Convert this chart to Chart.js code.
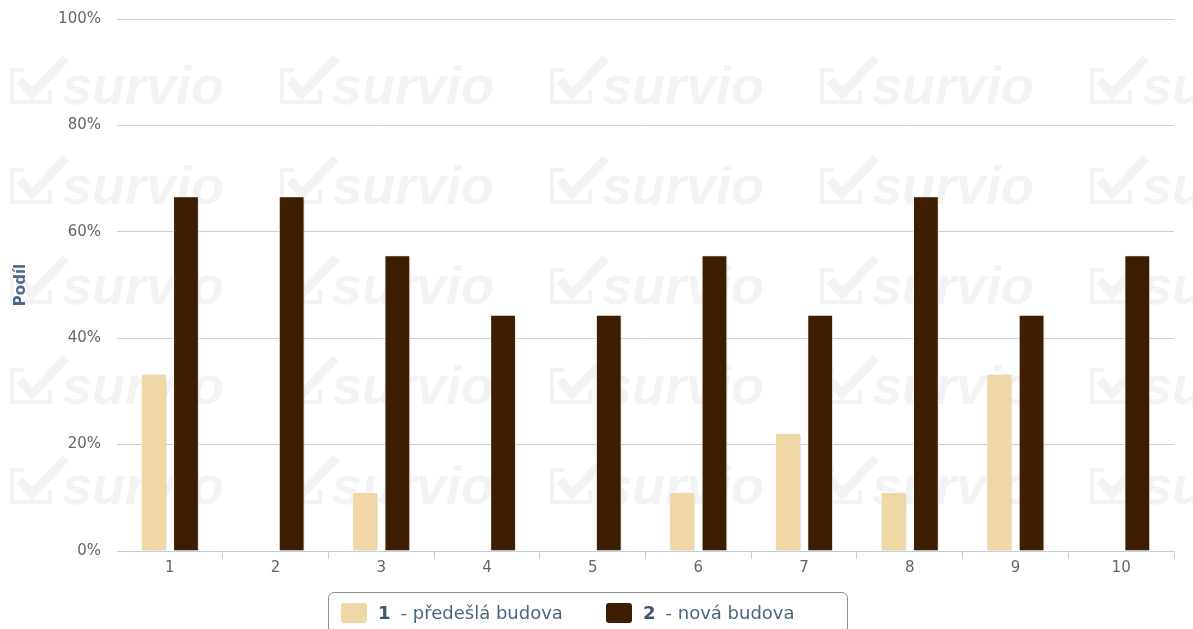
<html>
    <head>
        <script src="https://cdn.jsdelivr.net/npm/chart.js@4.4.0/dist/chart.umd.min.js"></script>
        <style>
            body {
                margin: 0px;
                background: #fff;
                font-family: 'DejaVu Sans', sans-serif;
            }

            #wrap {
                position: relative;
                width: 1193px;
                height: 629px;
                overflow: hidden;
            }

            #legend {
                position: absolute;
                left: 328px;
                top: 592px;
                width: 518px;
                height: 60px;
                border: 1px solid #909090;
                border-radius: 6px;
                font-size: 18px;
                color: #4d6580;
            }

            .item {
                position: absolute;
                top: 9px;
                display: flex;
                align-items: center;
                white-space: nowrap;
            }

            .swatch {
                width: 26px;
                height: 20px;
                border-radius: 3px;
                margin-right: 11px;
            }

            .num {
                font-weight: bold;
                color: #3e576f;
                margin-right: 10px;
            }
        </style>
    </head>

    <body>
        <div id="wrap">
            <canvas id="chart" width="1193" height="629"></canvas>
            <div id="legend"></div>
        </div>
        <script>
            const categories = ['1', '2', '3', '4', '5', '6', '7', '8', '9', '10']
            const seriesNames = ['předešlá budova', 'nová budova']
            const seriesPrev = [33.3, 0, 11.1, 0, 0, 11.1, 22.2, 11.1, 33.3, 0]
            const seriesNew = [66.7, 66.7, 55.6, 44.4, 44.4, 55.6, 44.4, 66.7, 44.4, 55.6]
            const colors = ['#f0d7a6', '#3d1e00']

            // survio watermark behind the plot
            const watermark = {
                id: 'watermark',
                beforeDraw(chart) {
                    const ctx = chart.ctx
                    ctx.save()
                    ctx.fillStyle = '#f3f3f3'
                    ctx.strokeStyle = '#f3f3f3'
                    ctx.font = 'italic bold 54px "Liberation Sans", Arial, sans-serif'
                    ctx.textBaseline = 'alphabetic'
                    for (let row = 0; row < 5; row += 1) {
                        for (let col = 0; col < 5; col += 1) {
                            const x = 10 + col * 270
                            const y = 104 + row * 100
                            // check box
                            ctx.lineWidth = 4
                            ctx.beginPath()
                            ctx.moveTo(x + 14, y - 34)
                            ctx.lineTo(x + 2, y - 34)
                            ctx.lineTo(x + 2, y - 2)
                            ctx.lineTo(x + 40, y - 2)
                            ctx.lineTo(x + 40, y - 14)
                            ctx.stroke()
                            // check mark
                            ctx.lineWidth = 9
                            ctx.beginPath()
                            ctx.moveTo(x + 10, y - 24)
                            ctx.lineTo(x + 22, y - 10)
                            ctx.lineTo(x + 56, y - 46)
                            ctx.stroke()
                            ctx.fillText('survio', x + 52, y)
                        }
                    }
                    ctx.restore()
                },
            }

            const barShadow = {
                id: 'barShadow',
                beforeDatasetsDraw(chart) {
                    const ctx = chart.ctx
                    ctx.save()
                    ctx.shadowColor = 'rgba(0, 0, 0, 0.18)'
                    ctx.shadowBlur = 3
                    ctx.shadowOffsetX = 1
                    ctx.shadowOffsetY = 1
                },
                afterDatasetsDraw(chart) {
                    chart.ctx.restore()
                },
            }

            const ctx = document.getElementById('chart')
            const chart = new Chart(ctx, {
                type: 'bar',
                data: {
                    labels: categories,
                    datasets: [seriesPrev, seriesNew].map((data, i) => ({
                        label: seriesNames[i],
                        data: data,
                        backgroundColor: colors[i],
                        borderColor: '#ffffff',
                        borderWidth: 1,
                        categoryPercentage: 0.61,
                        barPercentage: 0.8,
                    })),
                },
                options: {
                    responsive: false,
                    animation: false,
                    layout: {
                        padding: { top: 19, right: 19, left: 0, bottom: 0 },
                    },
                    plugins: {
                        legend: { display: false },
                        tooltip: { enabled: false },
                    },
                    scales: {
                        x: {
                            grid: {
                                offset: true,
                                drawOnChartArea: false,
                                drawTicks: true,
                                tickLength: 8,
                                color: (c) => (c.index === 0 || c.index === categories.length ? 'rgba(0,0,0,0)' : '#c0d0e0'),
                            },
                            border: { display: true, color: '#c0d0e0', width: 1 },
                            ticks: {
                                color: '#666666',
                                font: { family: 'DejaVu Sans', size: 15 },
                                padding: 0,
                            },
                            afterFit(scale) {
                                scale.height = 78
                            },
                        },
                        y: {
                            min: 0,
                            max: 100,
                            grid: {
                                drawTicks: false,
                                color: '#d0d0d0',
                                lineWidth: 1,
                            },
                            border: { display: false },
                            ticks: {
                                stepSize: 20,
                                color: '#666666',
                                font: { family: 'DejaVu Sans', size: 15 },
                                padding: 16,
                                callback: (v) => v + '%',
                            },
                            title: {
                                display: true,
                                text: 'Podíl',
                                color: '#4d6a8a',
                                font: { family: 'DejaVu Sans', size: 15, weight: 'bold' },
                                padding: { top: 12, bottom: 0 },
                            },
                            afterFit(scale) {
                                scale.width = 117
                                scale.paddingTop = 0
                                scale.paddingBottom = 0
                            },
                        },
                    },
                },
                plugins: [watermark, barShadow],
            })

            // html legend
            const legend = document.getElementById('legend')
            const offsets = [12, 277]
            seriesNames.forEach((name, i) => {
                const item = document.createElement('div')
                item.className = 'item'
                item.style.left = offsets[i] + 'px'
                item.innerHTML =
                    '<span class="swatch" style="background:' + colors[i] + '"></span>' +
                    '<span class="num">' + (i + 1) + '</span>' +
                    '<span>- ' + name + '</span>'
                legend.appendChild(item)
            })
        </script>
    </body>
</html>
